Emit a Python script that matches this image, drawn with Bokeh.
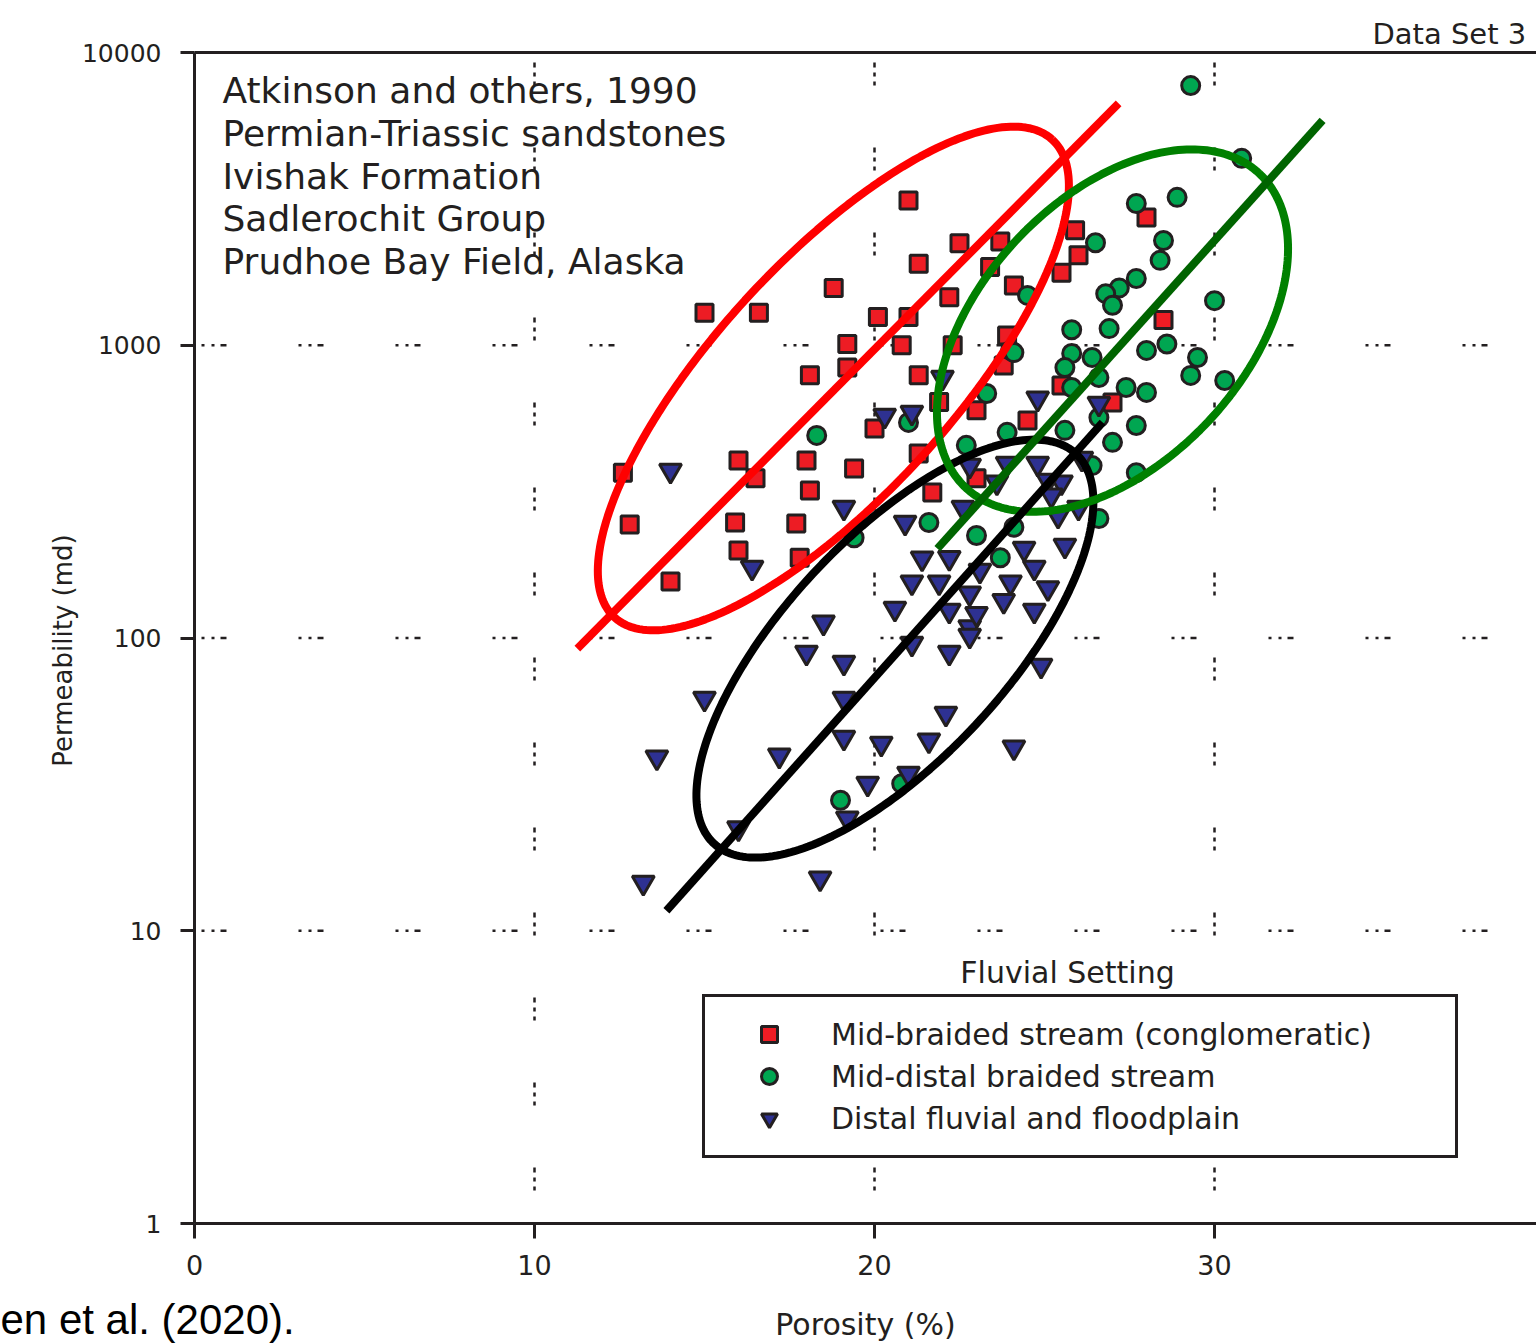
import numpy as np
from bokeh.plotting import figure
from bokeh.models import (FixedTicker, PrintfTickFormatter, LinearAxis, Label,
                          Legend, LegendItem)
from bokeh.embed import file_html
from bokeh.resources import INLINE

# ---------------- data (porosity %, permeability md) ----------------
mid_braided_porosity = [12.6, 12.8, 14.0, 15.0, 16.6, 18.8, 21.0, 21.3, 20.1, 21.0,
                        19.2, 20.8, 22.3, 22.5, 22.2, 23.7, 23.4, 24.1, 25.9, 28.0,
                        26.0, 25.5, 28.5, 23.9, 18.1, 19.2, 21.3, 21.9, 20.0, 23.0,
                        21.3, 21.7, 16.0, 16.5, 18.0, 18.1, 19.4, 15.9, 17.7, 16.0,
                        17.8, 23.0, 23.8, 24.5, 27.0, 25.5]
mid_braided_perm = [367, 244, 156, 1290, 1290, 1570, 3120, 1900, 1250, 1250,
                    1010, 1000, 1000, 2230, 1460, 2260, 1850, 1600, 2470, 2730,
                    2030, 1770, 1220, 1080, 790, 840, 790, 640, 520, 600,
                    427, 314, 404, 351, 404, 319, 379, 248, 246, 199,
                    188, 351, 853, 553, 637, 728]

mid_distal_porosity = [29.3, 30.8, 27.7, 28.9, 26.5, 28.5, 28.4, 27.7, 27.2, 26.8,
                       27.0, 30.0, 25.8, 26.9, 28.6, 28.0, 29.5, 24.5, 24.0, 25.8,
                       26.4, 25.6, 29.3, 30.3, 25.8, 26.6, 27.4, 28.0, 23.3, 25.6,
                       26.6, 27.7, 27.0, 23.9, 22.7, 26.4, 27.7, 21.6, 26.6, 23.0,
                       24.1, 23.7, 21.0, 18.3, 19.4, 19.0, 20.8, 24.1]
mid_distal_perm = [7710, 4350, 3050, 3200, 2240, 2280, 1950, 1690, 1570, 1500,
                   1370, 1420, 1130, 1140, 1010, 960, 908, 1480, 960, 937,
                   908, 839, 789, 758, 717, 776, 717, 690, 684, 512,
                   566, 532, 466, 504, 455, 388, 367, 248, 256, 224,
                   239, 188, 545, 492, 220, 27.9, 31.8, 944]

distal_porosity = [14.0, 16.4, 19.1, 20.3, 21.1, 22.0, 20.9, 21.4, 22.2, 21.1,
                   21.9, 20.6, 22.2, 22.8, 22.8, 18.5, 22.6, 22.8, 18.0, 19.1,
                   21.1, 22.2, 22.8, 15.0, 19.1, 22.1, 19.1, 20.2, 21.6, 17.2,
                   13.6, 19.8, 21.0, 19.2, 16.0, 13.2, 18.4, 24.8, 26.6, 23.9,
                   24.8, 25.5, 25.1, 23.6, 25.4, 26.0, 26.1, 25.2, 24.4, 25.6,
                   24.7, 23.1, 24.0, 25.1, 23.8, 23.0, 24.7, 24.9, 24.1]
distal_perm = [373, 174, 279, 575, 589, 776, 248, 187, 188, 155,
               155, 126, 124, 142, 109, 113, 279, 388, 89.2, 82.4,
               95.7, 89.2, 102, 62.1, 62.1, 55.2, 45.7, 43.6, 44.7, 39.7,
               39.1, 31.8, 34.4, 24.2, 22.4, 14.6, 15.1, 658, 632, 394,
               394, 340, 345, 340, 262, 279, 410, 307, 202, 207,
               174, 170, 155, 148, 134, 121, 124, 80.5, 42.3]

# trend lines (porosity, permeability) end points
red_trend_x = [11.26, 27.18]
red_trend_y = [92, 6700]
green_trend_x = [21.85, 33.18]
green_trend_y = [202, 5860]
black_trend_x = [13.88, 26.71]
black_trend_y = [11.7, 545]

x_ticks = [0, 10, 20, 30]
y_ticks = [1, 10, 100, 1000, 10000]
x_grid_at = [10, 20, 30]
y_grid_at = [10, 100, 1000]

legend_labels = ["Mid-braided stream (conglomeratic)",
                 "Mid-distal braided stream",
                 "Distal fluvial and floodplain"]
info_lines = ["Atkinson and others, 1990",
              "Permian-Triassic sandstones",
              "Ivishak Formation",
              "Sadlerochit Group",
              "Prudhoe Bay Field, Alaska"]

# ---------------- layout ----------------
W, H = 1536, 1344
ORIGIN_X, ORIGIN_Y = 194, 1223      # pixel position of (0, 1)
PX_X = 34.0                          # pixels per porosity unit
PX_DEC = 292.75                      # pixels per decade
X0, X1 = -ORIGIN_X / PX_X, (W - ORIGIN_X) / PX_X
Y0, Y1 = 10 ** (-(H - ORIGIN_Y) / PX_DEC), 10 ** (ORIGIN_Y / PX_DEC)

INK = "#231f20"
FONT = "DejaVu Sans"

p = figure(width=W, height=H, x_range=(X0, X1), y_range=(Y0, Y1),
           y_axis_type="log", output_backend="svg", toolbar_location=None,
           min_border=0)
p.title.visible = False
p.outline_line_color = None
p.background_fill_color = "white"
p.border_fill_color = "white"
p.xgrid.grid_line_color = None
p.ygrid.grid_line_color = None

# axes (fixed inside the full-canvas frame)
p.xaxis.fixed_location = 1
p.yaxis.fixed_location = 0
p.xaxis.bounds = (0, X1)
p.yaxis.bounds = (1, 10000)
p.xaxis.ticker = FixedTicker(ticks=x_ticks)
p.yaxis.ticker = FixedTicker(ticks=y_ticks)
p.yaxis.formatter = PrintfTickFormatter(format="%d")
for ax in (p.xaxis[0], p.yaxis[0]):
    ax.axis_line_width = 3
    ax.axis_line_color = INK
    ax.major_tick_line_width = 3
    ax.major_tick_line_color = INK
    ax.major_tick_in = 0
    ax.minor_tick_line_color = None
    ax.major_label_text_font = FONT
    ax.major_label_text_color = INK
p.xaxis.major_tick_out = 15
p.yaxis.major_tick_out = 14
p.xaxis.major_label_text_font_size = "27px"
p.yaxis.major_label_text_font_size = "25px"
p.xaxis.major_label_standoff = 16
p.yaxis.major_label_standoff = 19

top = LinearAxis(ticker=FixedTicker(ticks=[]), major_label_text_font_size="0px",
                 axis_line_width=3, axis_line_color=INK,
                 major_tick_line_color=None, minor_tick_line_color=None,
                 fixed_location=10000, bounds=(0, X1))
p.add_layout(top, "above")

# dotted grid lines
p.segment(x0=x_grid_at, y0=[1] * len(x_grid_at), x1=x_grid_at, y1=[10000] * len(x_grid_at),
          line_color=INK, line_width=2.5, line_dash="4 5 4 5 5 62", line_dash_offset=52)
p.segment(x0=[0] * len(y_grid_at), y0=y_grid_at, x1=[X1] * len(y_grid_at), y1=y_grid_at,
          line_color=INK, line_width=2.5, line_dash="3 7 3 6 6 72", line_dash_offset=90)

# markers
r_red = p.scatter(mid_braided_porosity, mid_braided_perm, marker="square", size=17,
                  fill_color="#ed1c24", line_color=INK, line_width=3)
r_green = p.scatter(mid_distal_porosity, mid_distal_perm, marker="circle", size=18,
                    fill_color="#00a651", line_color=INK, line_width=3)
r_blue = p.scatter(distal_porosity, distal_perm, marker="inverted_triangle", size=22,
                   fill_color="#2e3192", line_color=INK, line_width=3)


def ellipse_curve(cx, cy, a_px, b_px, theta_deg, n=240):
    t = np.linspace(0, 2 * np.pi, n)
    th = np.radians(theta_deg)
    du = a_px * np.cos(t) * np.cos(th) - b_px * np.sin(t) * np.sin(th)
    dv = a_px * np.cos(t) * np.sin(th) + b_px * np.sin(t) * np.cos(th)
    return cx + du / PX_X, cy * 10 ** (dv / PX_DEC)


ex, ey = ellipse_curve(18.79, 770, 324, 118, 47.5)
p.line(ex, ey, line_color="#ff0000", line_width=8)
p.line(red_trend_x, red_trend_y, line_color="#ff0000", line_width=8, line_cap="butt")
ex, ey = ellipse_curve(20.6, 92, 266, 111, 47.1)
p.line(ex, ey, line_color="#000000", line_width=8)
ex, ey = ellipse_curve(27.0, 1122, 215, 132, 47.0)
p.line(ex, ey, line_color="#008000", line_width=8)
p.line(green_trend_x, green_trend_y, line_color="#006400", line_width=8, line_cap="butt")
p.line(black_trend_x, black_trend_y, line_color="#000000", line_width=8, line_cap="butt")

# legend
legend = Legend(items=[LegendItem(label=legend_labels[0], renderers=[r_red]),
                       LegendItem(label=legend_labels[1], renderers=[r_green]),
                       LegendItem(label=legend_labels[2], renderers=[r_blue])],
                location=(702, H - 1158), orientation="vertical",
                border_line_color=INK, border_line_width=3, border_line_alpha=1,
                background_fill_color="white", background_fill_alpha=1,
                padding=17, spacing=2, margin=0,
                glyph_width=94, glyph_height=40, label_height=40,
                label_width=607, label_standoff=15,
                label_text_font=FONT, label_text_font_size="30px",
                label_text_color=INK, label_text_baseline="middle")
p.add_layout(legend, "center")


def add_text(x, y, text, size, font=FONT, color=INK, align="left", angle=0):
    p.add_layout(Label(x=x, y=H - y, x_units="screen", y_units="screen",
                       text=text, text_font=font, text_font_size=size,
                       text_color=color, text_baseline="middle",
                       text_align=align, angle=angle, angle_units="deg"))


# texts (positions in pixels from the top-left of the canvas)
for i, line in enumerate(info_lines):
    add_text(222, 90 + i * 42.8, line, "36px")
add_text(1067, 972, "Fluvial Setting", "30px", align="center")
add_text(1372, 33, "Data Set 3", "29px")
add_text(0, 1319, "en et al. (2020).", "42px", font="Liberation Sans", color="#000000")
add_text(865, 1324, "Porosity (%)", "30px", align="center")
add_text(62, 650, "Permeability (md)", "26px", align="center", angle=90)

open("out.html", "w").write(file_html(p, INLINE))
